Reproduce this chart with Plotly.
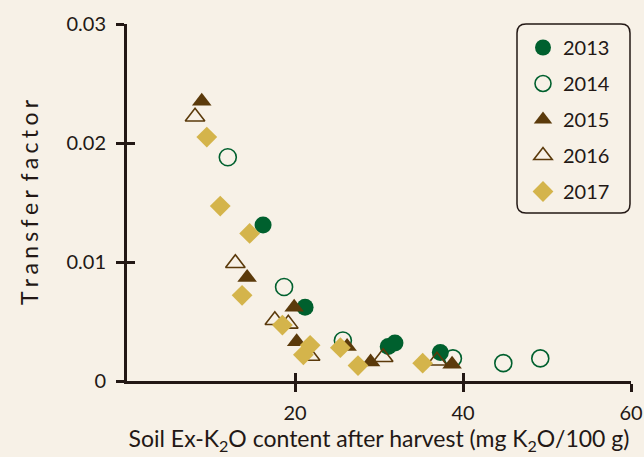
import plotly.graph_objects as go

# Data (soil Ex-K2O, mg K2O/100 g  vs  transfer factor)
x2013 = [16.2, 21.2, 31.1, 31.9, 37.3]
y2013 = [0.0131, 0.0062, 0.0029, 0.0032, 0.0024]

x2014 = [12.0, 18.7, 25.7, 38.8, 44.8, 49.2]
y2014 = [0.0188, 0.0079, 0.0034, 0.0019, 0.0015, 0.0019]

x2015 = [8.9, 14.3, 19.9, 20.2, 26.2, 29.0, 38.7]
y2015 = [0.0235, 0.0087, 0.0062, 0.0033, 0.0029, 0.0016, 0.0014]

x2016 = [8.1, 12.9, 17.6, 19.2, 21.8, 30.5, 36.9]
y2016 = [0.0222, 0.0099, 0.0051, 0.0048, 0.0021, 0.0020, 0.0017]

x2017 = [9.5, 11.1, 14.6, 13.7, 18.5, 21.8, 21.0, 25.4, 27.5, 35.2]
y2017 = [0.0205, 0.0147, 0.0124, 0.0072, 0.0047, 0.0030, 0.0022, 0.0028, 0.0013, 0.0015]

x_ticks = [20, 40, 60]
y_ticks = [0, 0.01, 0.02, 0.03]
y_ticklabels = ["0", "0.01", "0.02", "0.03"]

GREEN = "#00602e"
BROWN = "#5b3a0b"
GOLD = "#d4b44b"
INK = "#231815"
BG = "#f7f1e7"
FONT = "Lato"

fig = go.Figure()

series = [
    ("2013", x2013, y2013, "circle", dict(color=GREEN, size=17, line=dict(width=0))),
    ("2014", x2014, y2014, "circle-open", dict(color=GREEN, size=17, line=dict(width=1.6))),
    ("2015", x2015, y2015, "triangle-up", dict(color=BROWN, size=17, line=dict(width=0))),
    ("2016", x2016, y2016, "triangle-up-open", dict(color=BROWN, size=17, line=dict(width=1.6))),
    ("2017", x2017, y2017, "diamond", dict(color=GOLD, size=16, line=dict(width=0))),
]
for name, xs, ys, sym, mk in series:
    fig.add_trace(go.Scatter(
        x=xs, y=ys, mode="markers", name=name,
        marker=dict(symbol=sym, **mk),
        legendgroup=name,
    ))

# invisible trace for the overlaid inner-tick axes
fig.add_trace(go.Scatter(x=[None], y=[None], xaxis="x2", yaxis="y2",
                         showlegend=False, hoverinfo="skip"))

axis_common = dict(showline=True, linecolor=INK, linewidth=3, showgrid=False,
                   zeroline=False, tickcolor=INK, tickwidth=3, ticklen=8)

gap = "\u2009\u200a"
ytitle = gap.join(list("Transfer")) + gap * 2 + gap.join(list("factor"))

fig.update_layout(
    width=644, height=457,
    paper_bgcolor=BG, plot_bgcolor=BG,
    margin=dict(l=127, r=13, t=24, b=76, autoexpand=False),
    font=dict(family=FONT, size=20, color=INK),
    showlegend=True,
    legend=dict(x=(523 - 127) / 504, y=1 - (28 - 24) / 357, xanchor="left", yanchor="top",
                bgcolor="rgba(0,0,0,0)", borderwidth=0,
                font=dict(family=FONT, size=20, color=INK),
                tracegroupgap=7, itemsizing="trace"),
    xaxis=dict(range=[0, 60], tickvals=x_ticks, ticks="outside",
               tickfont=dict(family=FONT, size=20, color=INK),
               ticklabelstandoff=4,
               title=dict(text="Soil Ex-K<sub>2</sub>O content after harvest (mg K<sub>2</sub>O/100 g)",
                          font=dict(family=FONT, size=23, color=INK), standoff=4),
               **axis_common),
    yaxis=dict(range=[0, 0.03], tickvals=y_ticks, ticktext=y_ticklabels, ticks="outside",
               tickfont=dict(family=FONT, size=20, color=INK),
               ticklabelstandoff=6,
               title=dict(text=ytitle, font=dict(family=FONT, size=23, color=INK), standoff=22),
               **axis_common),
    xaxis2=dict(range=[0, 60], tickvals=x_ticks, ticks="inside", overlaying="x",
                showticklabels=False, anchor="y2", **axis_common),
    yaxis2=dict(range=[0, 0.03], tickvals=[0.01, 0.02, 0.03], ticks="inside", overlaying="y",
                showticklabels=False, anchor="x2", **axis_common),
)

# rounded legend frame (paper coordinates)
x0, x1 = (517 - 127) / 504, (630 - 127) / 504
y0, y1 = (381 - 213) / 357, (381 - 24) / 357
rx, ry = 9 / 504, 9 / 357
path = (f"M {x0+rx},{y1} L {x1-rx},{y1} Q {x1},{y1} {x1},{y1-ry} "
        f"L {x1},{y0+ry} Q {x1},{y0} {x1-rx},{y0} L {x0+rx},{y0} "
        f"Q {x0},{y0} {x0},{y0+ry} L {x0},{y1-ry} Q {x0},{y1} {x0+rx},{y1} Z")
fig.add_shape(type="path", path=path, xref="paper", yref="paper",
              line=dict(color=INK, width=1.5), fillcolor="rgba(0,0,0,0)")

fig.write_html("out.html", config={"displayModeBar": False},
               post_script="document.body.style.margin='0';document.body.style.background='%s';" % BG)
